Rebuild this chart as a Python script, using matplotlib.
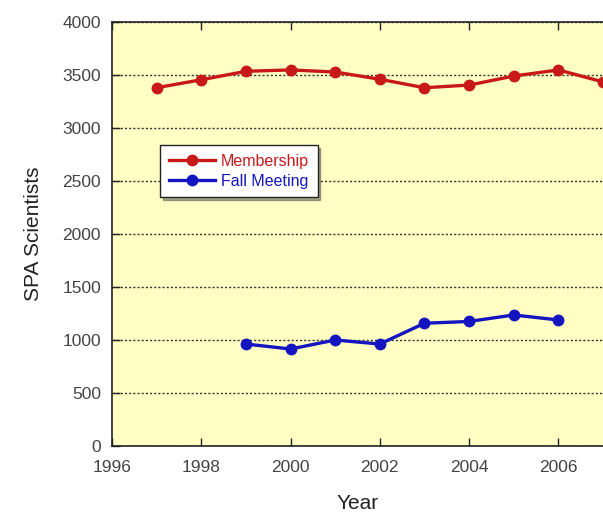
import matplotlib.pyplot as plt

# Data
years_membership = [1997, 1998, 1999, 2000, 2001, 2002, 2003, 2004, 2005, 2006, 2007]
membership = [3380, 3455, 3535, 3548, 3528, 3460, 3380, 3405, 3490, 3548, 3435]

years_fall = [1999, 2000, 2001, 2002, 2003, 2004, 2005, 2006]
fall_meeting = [962, 915, 1000, 962, 1158, 1175, 1236, 1189]

x_ticks = [1996, 1998, 2000, 2002, 2004, 2006]
y_ticks = [0, 500, 1000, 1500, 2000, 2500, 3000, 3500, 4000]

plt.rcParams['font.family'] = ['Liberation Sans', 'DejaVu Sans']

red = '#C81818'
blue = '#1414C0'

fig = plt.figure(figsize=(6.03, 5.16), dpi=100)
ax = fig.add_axes([112 / 603, 70 / 516, 491 / 603, 424 / 516])
ax.set_facecolor('#FFFFC4')

ax.plot(years_membership, membership, color=red, lw=2.4, marker='o', ms=7.5,
        label='Membership')
ax.plot(years_fall, fall_meeting, color=blue, lw=2.4, marker='o', ms=7.5,
        label='Fall Meeting')

ax.set_xlim(1996, 2007)
ax.set_ylim(0, 4000)
ax.set_xticks(x_ticks)
ax.set_yticks(y_ticks)
ax.yaxis.grid(True, linestyle=(0, (1.5, 1.5)), color='#333333', lw=1)
ax.set_axisbelow(True)

ax.tick_params(direction='in', length=6, width=1, top=True, right=False,
               labelsize=12.5, colors='#222222', labelcolor='#444444', pad=8)
ax.tick_params(axis='x', pad=10)
for side in ['left', 'bottom', 'top']:
    ax.spines[side].set_linewidth(1.2)
    ax.spines[side].set_color('#222222')
ax.spines['right'].set_visible(False)

ax.set_xlabel('Year', fontsize=15, color='#222222', labelpad=14)
ax.set_ylabel('SPA Scientists', fontsize=15, color='#222222', labelpad=14)

leg = ax.legend(loc='upper left', bbox_to_anchor=(0.098, 0.71), fontsize=11.5,
                frameon=True, fancybox=False, shadow=True, handlelength=2.9,
                borderpad=0.55, labelspacing=0.3, handletextpad=0.35,
                borderaxespad=0)
leg.get_frame().set_edgecolor('#222222')
leg.get_frame().set_linewidth(1)
for txt, c in zip(leg.get_texts(), [red, blue]):
    txt.set_color(c)

fig.savefig('out.png', dpi=100)
